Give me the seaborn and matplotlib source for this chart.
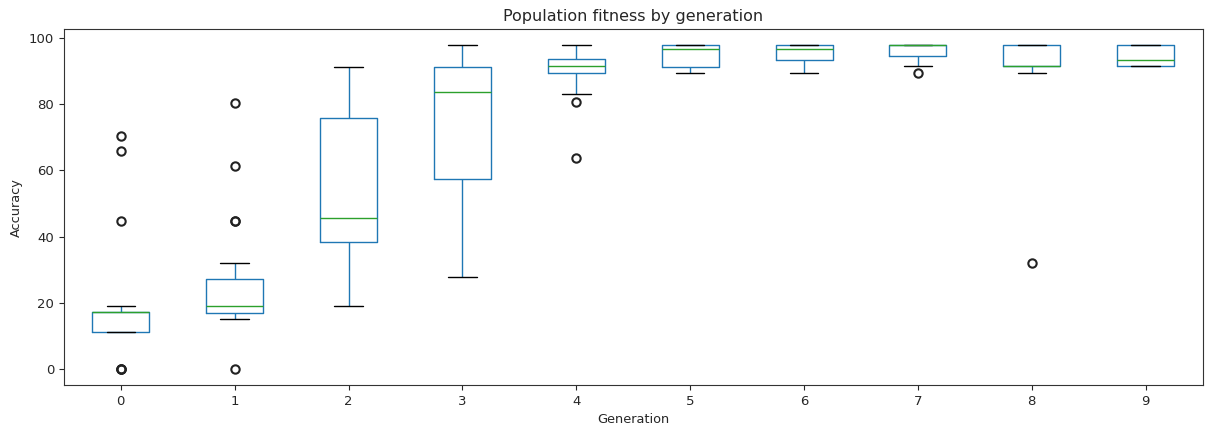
import numpy as np
import pandas as pd
import matplotlib
matplotlib.use("Agg")
import matplotlib.pyplot as plt
import seaborn as sns

generations = [0, 1, 2, 3, 4, 5, 6, 7, 8, 9]

gen0 = [0, 0, 0, 11.05, 11.05, 11.05, 13.3, 15.5, 16.7, 17.1, 17.1,
        17.1, 17.15, 17.2, 17.26, 17.26, 19.0, 19.0, 44.8, 65.9, 70.3]
gen1 = [0, 15.0, 15.5, 16.0, 17.0, 17.0, 17.0, 18.0, 19.0, 19.0, 19.0,
        20.5, 22.5, 24.5, 26.5, 27.3, 32.0, 44.8, 44.8, 61.4, 80.5]
gen2 = [19.0, 26.0, 31.0, 35.0, 37.5, 38.5, 40.0, 42.0, 44.0, 45.0, 45.6,
        52.0, 60.0, 67.0, 72.0, 75.8, 80.0, 84.0, 87.0, 89.5, 91.4]
gen3 = [27.7, 35.0, 42.0, 48.0, 53.0, 57.5, 62.0, 68.0, 74.0, 80.0, 83.8,
        86.0, 88.0, 89.5, 91.4, 91.4, 93.3, 93.3, 95.6, 97.8, 97.8]
gen4 = [63.9, 80.7, 83.2, 87.5, 89.3, 89.3, 89.5, 90.5, 91.0, 91.6, 91.6,
        91.6, 92.5, 93.0, 93.6, 93.6, 94.5, 95.5, 96.7, 97.8, 97.8]
gen5 = [89.5, 89.5, 90.5, 91.2, 91.2, 91.2, 93.5, 94.5, 95.5, 96.7, 96.7,
        96.7, 97.8, 97.8, 97.8, 97.8, 97.8, 97.8, 97.8, 97.8, 97.8]
gen6 = [89.5, 91.5, 92.5, 93.3, 93.3, 93.3, 94.5, 95.5, 96.7, 96.7, 96.7,
        96.7, 97.8, 97.8, 97.8, 97.8, 97.8, 97.8, 97.8, 97.8, 97.8]
gen7 = [89.4, 91.6, 93.5, 94.7, 94.7, 94.7, 95.6, 96.7, 97.8, 97.8, 97.8,
        97.8, 97.8, 97.8, 97.8, 97.8, 97.8, 97.8, 97.8, 97.8, 97.8]
gen8 = [32.0, 89.5, 89.5, 91.5, 91.5, 91.5, 91.5, 91.5, 91.5, 91.5, 91.5,
        93.5, 95.6, 96.7, 97.8, 97.8, 97.8, 97.8, 97.8, 97.8, 97.8]
gen9 = [91.5, 91.5, 91.5, 91.5, 91.5, 91.5, 91.5, 92.5, 93.5, 93.5, 93.5,
        94.5, 95.6, 96.7, 97.8, 97.8, 97.8, 97.8, 97.8, 97.8, 97.8]

all_gens = [gen0, gen1, gen2, gen3, gen4, gen5, gen6, gen7, gen8, gen9]

rows = []
for g, vals in zip(generations, all_gens):
    for v in vals:
        rows.append({"Generation": g, "Accuracy": v})
df = pd.DataFrame(rows)

sns.set_style("ticks")
plt.rcParams['font.family'] = ['DejaVu Sans']
plt.rcParams['axes.edgecolor'] = '#333333'
plt.rcParams['xtick.labelsize'] = 9.5
plt.rcParams['ytick.labelsize'] = 9.5

fig, ax = plt.subplots(figsize=(12.05, 4.28), dpi=100)
fig.subplots_adjust(left=0.053, right=0.998, top=0.932, bottom=0.1)

blue = "#1f77b4"
sns.boxplot(
    data=df, x="Generation", y="Accuracy", ax=ax,
    width=0.5, fill=False, linewidth=1.0, whis=1.5, color=blue,
    boxprops=dict(color=blue),
    whiskerprops=dict(color=blue),
    capprops=dict(color="black"),
    medianprops=dict(color="#2ca02c"),
    flierprops=dict(marker="o", markerfacecolor="none",
                    markeredgecolor="#222222", markersize=6,
                    markeredgewidth=1.5),
)

ax.set_title("Population fitness by generation", fontsize=11.5)
ax.set_xlabel("Generation", fontsize=9.3)
ax.set_ylabel("Accuracy", fontsize=9.3)
ax.set_ylim(-4.9, 102.7)
ax.set_yticks([0, 20, 40, 60, 80, 100])

fig.savefig("out.png", dpi=100)
